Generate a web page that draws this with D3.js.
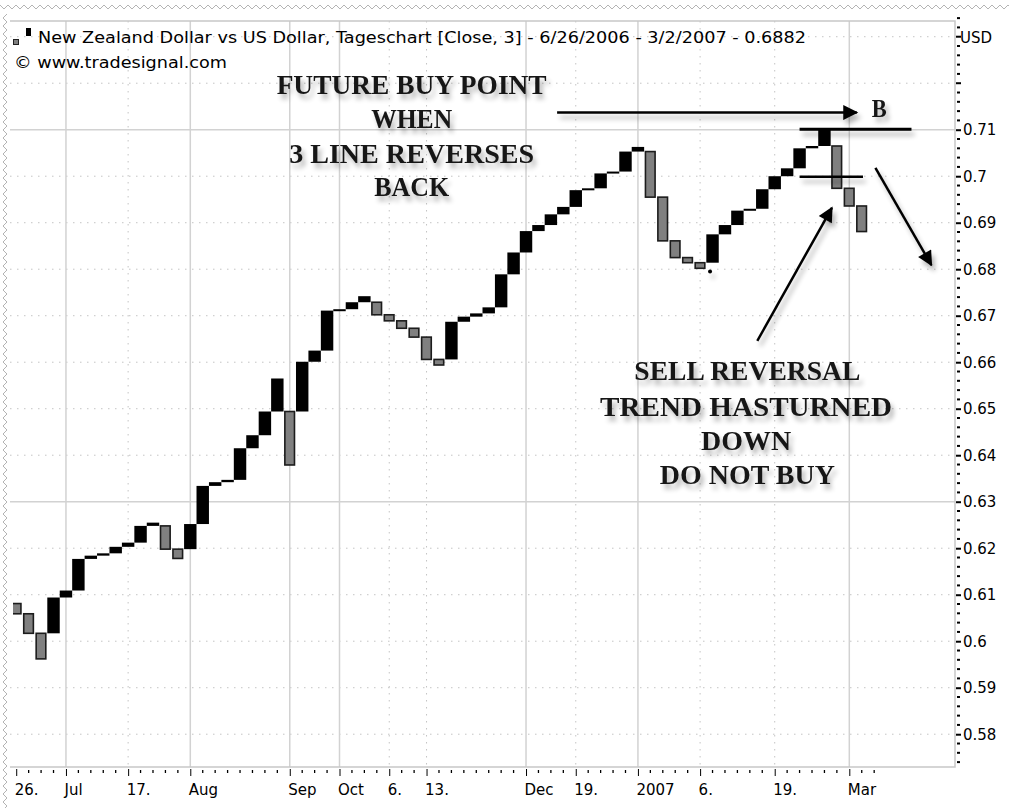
<!DOCTYPE html>
<html>
<head>
<meta charset="utf-8">
<script src="https://cdn.jsdelivr.net/npm/d3@7"></script>
<style>
	body { margin: 0; background: #fff; }
	svg { display: block; }
	.axis text { font-family: "DejaVu Sans", sans-serif; font-size: 15px; fill: #000; }
	.note { font-family: "Liberation Serif", serif; font-weight: bold; fill: #151515; }
</style>
</head>
<body>
<div id="chart"></div>
<script>
// chart size and plot box
const width = 1009;
const height = 808;
const plot = {left: 10, right: 955, top: 21, bottom: 767};

// three line break (daily close), one entry per line
const firstOpen = 0.6081;
const closes = [
	0.6059, 0.6017, 0.5962, 0.6094, 0.6109, 0.6177, 0.6184, 0.6189, 0.6203, 0.6212,
	0.6248, 0.6255, 0.6198, 0.6178, 0.6252, 0.6334, 0.6342, 0.6347, 0.6415, 0.6443,
	0.6494, 0.6565, 0.6379, 0.6601, 0.6625, 0.6711, 0.6714, 0.6729, 0.6742, 0.6702,
	0.6689, 0.6673, 0.6654, 0.6606, 0.6594, 0.6687, 0.6698, 0.6705, 0.6718, 0.6789,
	0.6836, 0.6882, 0.6895, 0.6918, 0.6934, 0.6970, 0.6974, 0.7006, 0.7010, 0.7053,
	0.7063, 0.6955, 0.6861, 0.6825, 0.6814, 0.6802, 0.6875, 0.6895, 0.6926, 0.6930,
	0.6972, 0.7000, 0.7017, 0.7060, 0.7065, 0.7103, 0.6974, 0.6936, 0.6881
];

// date ticks: line index, label, and whether it opens a month
const tickIndex = [0, 4, 9, 14, 22, 26, 30, 33, 41, 45, 50, 55, 61, 67];
const tickLabels = ['26.', 'Jul', '17.', 'Aug', 'Sep', 'Oct', '6.', '13.', 'Dec', '19.', '2007', '6.', '19.', 'Mar'];
const monthStart = [false, true, false, true, true, true, false, false, true, false, true, false, false, true];

// price ticks
const yTicks = [0.58, 0.59, 0.6, 0.61, 0.62, 0.63, 0.64, 0.65, 0.66, 0.67, 0.68, 0.69, 0.7, 0.71];
const yGrid = [0.58, 0.59, 0.6, 0.61, 0.62, 0.63, 0.64, 0.65, 0.66, 0.67, 0.68, 0.69, 0.7, 0.71, 0.72, 0.73];
const ySolid = [0.63, 0.71];

// hand drawn notes (line index / price)
const notes = [
	{text: 'FUTURE BUY POINT', i: 31.8, v: 0.7177, len: 270},
	{text: 'WHEN', i: 31.8, v: 0.7104, len: 81},
	{text: '3 LINE REVERSES', i: 31.8, v: 0.7029, len: 245},
	{text: 'BACK', i: 31.8, v: 0.6957, len: 75},
	{text: 'SELL REVERSAL', i: 58.8, v: 0.6562, len: 226},
	{text: 'TREND HASTURNED', i: 58.7, v: 0.6484, len: 292},
	{text: 'DOWN', i: 58.7, v: 0.6411, len: 90},
	{text: 'DO NOT BUY', i: 58.8, v: 0.6338, len: 175},
	{text: 'B', i: 69.4, v: 0.7127, len: 15}
];
const marks = [
	{i0: 63.0, v0: 0.7101, i1: 72.0, v1: 0.7101, arrow: false, w: 3},
	{i0: 63.0, v0: 0.6999, i1: 68.1, v1: 0.6999, arrow: false, w: 2.5},
	{i0: 43.5, v0: 0.7137, i1: 67.6, v1: 0.7137, arrow: true, w: 2.5},
	{i0: 59.6, v0: 0.6646, i1: 65.6, v1: 0.6932, arrow: true, w: 2.5},
	{i0: 69.1, v0: 0.7018, i1: 73.6, v1: 0.6809, arrow: true, w: 2.5}
];

// build the lines: a new line continues from the last close, a reversal
// starts from the open of the previous line
const bricks = [];
closes.forEach((c, i) => {
	let open = firstOpen;
	if (i > 0) {
		const p = bricks[i - 1];
		const pUp = p.close > p.open;
		if (pUp) open = c > p.close ? p.close : p.open;
		else open = c < p.close ? p.close : p.open;
	}
	bricks.push({i, open, close: c, up: c > open});
});

const x = d3.scaleLinear().domain([-0.5, 75.5]).range([plot.left, plot.right]);
const y = d3.scaleLinear().domain([0.57295, 0.73338]).range([plot.bottom, plot.top]);
const bw = x(1) - x(0);

const svg = d3.select('#chart').append('svg')
	.attr('width', width)
	.attr('height', height);

const defs = svg.append('defs');
defs.append('clipPath').attr('id', 'clip')
	.append('rect')
	.attr('x', 13).attr('y', plot.top)
	.attr('width', plot.right - 13).attr('height', plot.bottom - plot.top);

const shadow = defs.append('filter').attr('id', 'shadow')
	.attr('x', '-30%').attr('y', '-60%').attr('width', '160%').attr('height', '220%');
shadow.append('feGaussianBlur').attr('in', 'SourceAlpha').attr('stdDeviation', 2.5);
shadow.append('feOffset').attr('dx', 3).attr('dy', 5).attr('result', 'off');
shadow.append('feComponentTransfer').append('feFuncA').attr('type', 'linear').attr('slope', 0.3);
const merge = shadow.append('feMerge');
merge.append('feMergeNode');
merge.append('feMergeNode').attr('in', 'SourceGraphic');

defs.append('marker').attr('id', 'head')
	.attr('viewBox', '0 0 10 10')
	.attr('refX', 9).attr('refY', 5)
	.attr('markerUnits', 'userSpaceOnUse')
	.attr('markerWidth', 18).attr('markerHeight', 15)
	.attr('orient', 'auto')
	.append('path')
	.attr('d', 'M0,0 L10,5 L0,10 z')
	.attr('fill', '#000');

svg.append('rect').attr('width', width).attr('height', height).attr('fill', '#fff');

// torn edges along top and left
const zig = d3.line();
const topPts = d3.range(0, width + 8, 4).map((px, k) => [px, k % 2 ? 9 : 5]);
const leftPts = d3.range(14, height + 8, 4).map((py, k) => [k % 2 ? 3 : 7, py]);
svg.append('path').attr('d', zig(topPts)).attr('fill', 'none').attr('stroke', '#b4b4b4');
svg.append('path').attr('d', zig(leftPts)).attr('fill', 'none').attr('stroke', '#b4b4b4');

// grid
const grid = svg.append('g');
grid.selectAll('.hgrid')
	.data(yGrid)
	.enter().append('line')
	.attr('x1', plot.left).attr('x2', plot.right)
	.attr('y1', d => y(d)).attr('y2', d => y(d))
	.attr('stroke', d => ySolid.includes(d) ? '#d2d2d2' : '#c4c4c4')
	.attr('stroke-width', d => ySolid.includes(d) ? 1.5 : 1)
	.attr('stroke-dasharray', d => ySolid.includes(d) ? null : '1.5,5.5');

grid.selectAll('.vgrid')
	.data(tickIndex.slice(1))
	.enter().append('line')
	.attr('x1', d => x(d)).attr('x2', d => x(d))
	.attr('y1', plot.top).attr('y2', plot.bottom)
	.attr('stroke', (d, k) => monthStart[k + 1] ? '#d2d2d2' : '#c4c4c4')
	.attr('stroke-width', (d, k) => monthStart[k + 1] ? 1.5 : 1)
	.attr('stroke-dasharray', (d, k) => monthStart[k + 1] ? null : '1.5,5.5');

// frame
svg.append('path')
	.attr('d', `M${plot.left},${plot.top}H${plot.right}V${plot.bottom}H${plot.left}`)
	.attr('fill', 'none')
	.attr('stroke', '#c8c8c8')
	.attr('stroke-width', 1.5);

// lines of the chart
const bars = svg.append('g').attr('clip-path', 'url(#clip)');
bars.selectAll('.up')
	.data(bricks.filter(d => d.up))
	.enter().append('rect')
	.attr('x', d => x(d.i) - bw / 2)
	.attr('width', bw)
	.attr('y', d => y(d.close))
	.attr('height', d => Math.max(2, y(d.open) - y(d.close)))
	.attr('fill', '#000');

bars.selectAll('.down')
	.data(bricks.filter(d => !d.up))
	.enter().append('rect')
	.attr('x', d => x(d.i) - bw / 2 + 1.3)
	.attr('width', bw - 2.8)
	.attr('y', d => y(d.open))
	.attr('height', d => Math.max(2, y(d.close) - y(d.open)))
	.attr('fill', '#808080')
	.attr('stroke', '#1c1c1c')
	.attr('stroke-width', 1.6);

// price axis
const yAxis = svg.append('g')
	.attr('class', 'axis')
	.attr('transform', `translate(${plot.right + 1},0)`)
	.call(d3.axisRight(y).tickValues(yTicks).tickFormat(d => String(d)).tickSize(5).tickPadding(2));
yAxis.select('.domain').remove();
yAxis.selectAll('.tick line').attr('stroke', '#000').attr('stroke-width', 2);

const minorY = d3.range(0.574, 0.734, 0.002).filter(v => !yGrid.some(t => Math.abs(t - v) < 0.0005));
svg.append('g').selectAll('line')
	.data(minorY)
	.enter().append('line')
	.attr('x1', plot.right + 2).attr('x2', plot.right + 5)
	.attr('y1', d => y(d)).attr('y2', d => y(d))
	.attr('stroke', '#000').attr('stroke-width', 2);

svg.append('g').selectAll('line')
	.data([0.72, 0.73])
	.enter().append('line')
	.attr('x1', plot.right + 1).attr('x2', plot.right + 6)
	.attr('y1', d => y(d)).attr('y2', d => y(d))
	.attr('stroke', '#000').attr('stroke-width', 2);

svg.append('text')
	.attr('class', 'axis')
	.attr('x', plot.right + 5).attr('y', 43)
	.style('font-family', '"DejaVu Sans", sans-serif').style('font-size', '15px')
	.text('USD');

// date axis
const xAxis = svg.append('g')
	.attr('class', 'axis')
	.attr('transform', `translate(0,${plot.bottom})`)
	.call(d3.axisBottom(x).tickValues(tickIndex).tickFormat((d, k) => tickLabels[k]).tickSize(9).tickPadding(8));
xAxis.select('.domain').remove();
xAxis.selectAll('.tick line').attr('stroke', '#000').attr('y1', 2);
xAxis.selectAll('.tick text').attr('text-anchor', 'start').attr('x', -2);

const minorX = d3.range(0, 70).filter(i => !tickIndex.includes(i));
svg.append('g').selectAll('line')
	.data(minorX)
	.enter().append('line')
	.attr('x1', d => x(d)).attr('x2', d => x(d))
	.attr('y1', plot.bottom + 3).attr('y2', plot.bottom + 6)
	.attr('stroke', '#000').attr('stroke-width', 1.3);

// title
const head = svg.append('g');
head.append('rect').attr('x', 13.5).attr('y', 39.5).attr('width', 5).attr('height', 5)
	.attr('fill', '#808080').attr('stroke', '#222');
head.append('rect').attr('x', 26).attr('y', 28).attr('width', 5).attr('height', 8).attr('fill', '#000');
head.append('text')
	.attr('x', 38).attr('y', 43)
	.style('font-family', '"DejaVu Sans", sans-serif').style('font-size', '15px')
	.attr('textLength', 768).attr('lengthAdjust', 'spacingAndGlyphs')
	.text('New Zealand Dollar vs US Dollar, Tageschart [Close, 3] - 6/26/2006 - 3/2/2007 - 0.6882');
head.append('text')
	.attr('x', 14).attr('y', 68)
	.style('font-family', '"DejaVu Sans", sans-serif').style('font-size', '15px')
	.attr('textLength', 213).attr('lengthAdjust', 'spacingAndGlyphs')
	.text('\u00a9 www.tradesignal.com');

// hand drawn notes
const ink = svg.append('g').attr('filter', 'url(#shadow)');
ink.selectAll('line')
	.data(marks)
	.enter().append('line')
	.attr('x1', d => x(d.i0)).attr('y1', d => y(d.v0))
	.attr('x2', d => x(d.i1)).attr('y2', d => y(d.v1))
	.attr('stroke', '#000')
	.attr('stroke-width', d => d.w)
	.attr('marker-end', d => d.arrow ? 'url(#head)' : null);

ink.append('circle')
	.attr('cx', x(55.8)).attr('cy', y(0.6795)).attr('r', 2).attr('fill', '#000');

ink.selectAll('text')
	.data(notes)
	.enter().append('text')
	.attr('class', 'note')
	.attr('x', d => x(d.i))
	.attr('y', d => y(d.v))
	.attr('text-anchor', 'middle')
	.style('font-size', d => d.text === 'B' ? '25px' : '28px')
	.attr('textLength', d => d.len)
	.attr('lengthAdjust', 'spacingAndGlyphs')
	.text(d => d.text);
</script>
</body>
</html>
